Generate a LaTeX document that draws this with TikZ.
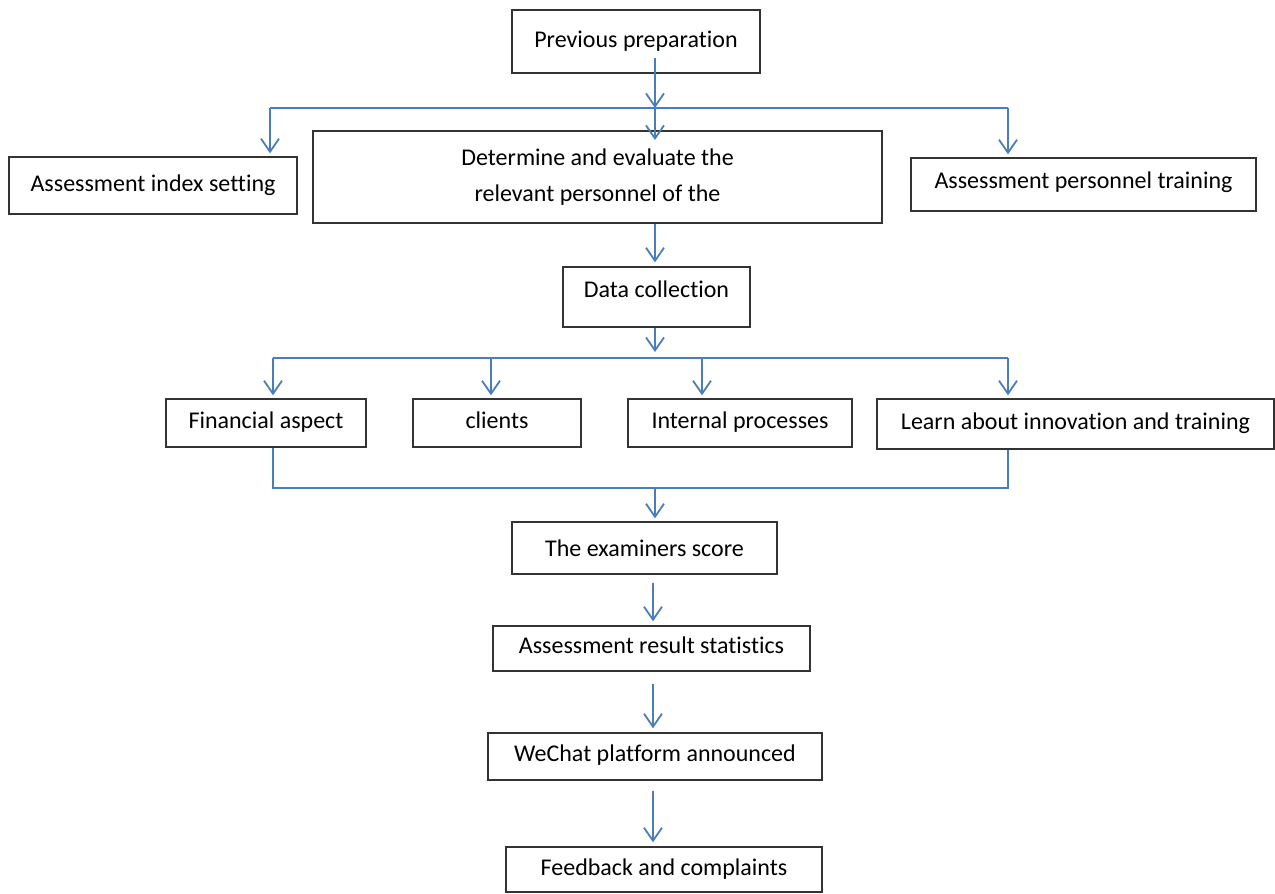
\documentclass[tikz,border=0pt]{standalone}
\usepackage{fontspec}
\setmainfont{Carlito}[Ligatures=NoCommon]
\usetikzlibrary{arrows.meta}
\definecolor{flowblue}{RGB}{74,126,187}

\begin{document}
\begin{tikzpicture}[x=0.5pt, y=-0.5pt, font=\fontsize{12}{14.5}\selectfont]
    \tikzstyle{box}=[draw=black!80, line width=0.7pt, inner sep=0pt]
    \tikzstyle{bus}=[draw=flowblue, line width=0.9pt]
    \tikzstyle{flow}=[bus, shorten >=1.5pt, -{Straight Barb[length=6.5pt,width=9pt]}]

    \useasboundingbox (0,0) rectangle (1275,894);

    % Preparation level
    \node[box, minimum width=124pt, minimum height=31.5pt] (prep) at (636,41.5) {Previous preparation};
    \node[box, minimum width=144pt, minimum height=28.5pt] (index) at (153,185.5) {Assessment index setting};
    \node[box, minimum width=284.5pt, minimum height=46pt, align=center] (determine) at (597.5,177) {Determine and evaluate the\\[3.5pt] relevant personnel of the};
    \node[box, minimum width=172.5pt, minimum height=26.5pt, text depth=4pt] (training) at (1083.5,184.5) {Assessment personnel training};

    % Data collection level
    \node[box, minimum width=93.5pt, minimum height=30pt, text depth=8pt] (collect) at (656.5,297) {Data collection};
    \node[box, minimum width=100pt, minimum height=24pt, text depth=3pt] (fin) at (266,423) {Financial aspect};
    \node[box, minimum width=84pt, minimum height=24pt, text depth=3pt] (clients) at (497,423) {clients};
    \node[box, minimum width=112pt, minimum height=24pt, text depth=3pt] (internal) at (740,423) {Internal processes};
    \node[box, minimum width=198.5pt, minimum height=25pt, text depth=3pt] (learn) at (1075.5,424) {Learn about innovation and training};

    % Result level
    \node[box, minimum width=132.5pt, minimum height=26pt] (score) at (644.5,548) {The examiners score};
    \node[box, minimum width=158.5pt, minimum height=22.5pt, text depth=3pt] (stats) at (651.5,648.5) {Assessment result statistics};
    \node[box, minimum width=167pt, minimum height=23.5pt, text depth=3pt] (wechat) at (655,756.5) {WeChat platform announced};
    \node[box, minimum width=158pt, minimum height=22.5pt] (feedback) at (664,869.5) {Feedback and complaints};

    % Split below preparation
    \coordinate (p1) at (655,58);
    \coordinate (s1) at (655,108);
    \coordinate (s1L) at (270,108);
    \coordinate (s1R) at (1008,108);
    \coordinate (d1) at (655,140);
    \draw[flow, shorten >=0pt] (p1) -- (s1);
    \draw[bus] (s1L) -- (s1R);
    \draw[flow] (s1L) -- (index.north -| s1L);
    \draw[flow] (s1R) -- (training.north -| s1R);
    \draw[flow, shorten >=0pt] (s1) -- (d1);
    \draw[flow, shorten >=2pt] (determine.south -| s1) -- (collect.north -| s1);

    % Split below data collection
    \coordinate (c1) at (655,352);
    \coordinate (s2L) at (273,358);
    \coordinate (s2B) at (491,358);
    \coordinate (s2C) at (702,358);
    \coordinate (s2R) at (1008,358);
    \draw[flow, shorten >=0pt] (collect.south -| c1) -- (c1);
    \draw[bus] (s2L) -- (s2R);
    \draw[flow] (s2L) -- (fin.north -| s2L);
    \draw[flow] (s2B) -- (clients.north -| s2B);
    \draw[flow] (s2C) -- (internal.north -| s2C);
    \draw[flow] (s2R) -- (learn.north -| s2R);

    % Merge into score
    \coordinate (m1) at (655,488);
    \coordinate (m1L) at (273,488);
    \coordinate (m1R) at (1008,488);
    \draw[bus] (fin.south -| m1L) -- (m1L) -- (m1R) -- (learn.south -| m1R);
    \draw[flow] (m1) -- (score.north -| m1);

    % Final chain
    \coordinate (col) at (653,0);
    \draw[flow, shorten <=4pt, shorten >=2pt] (score.south -| col) -- (stats.north -| col);
    \draw[flow, shorten <=6pt, shorten >=2pt] (stats.south -| col) -- (wechat.north -| col);
    \draw[flow, shorten <=5pt, shorten >=2pt] (wechat.south -| col) -- (feedback.north -| col);

\end{tikzpicture}
\end{document}
